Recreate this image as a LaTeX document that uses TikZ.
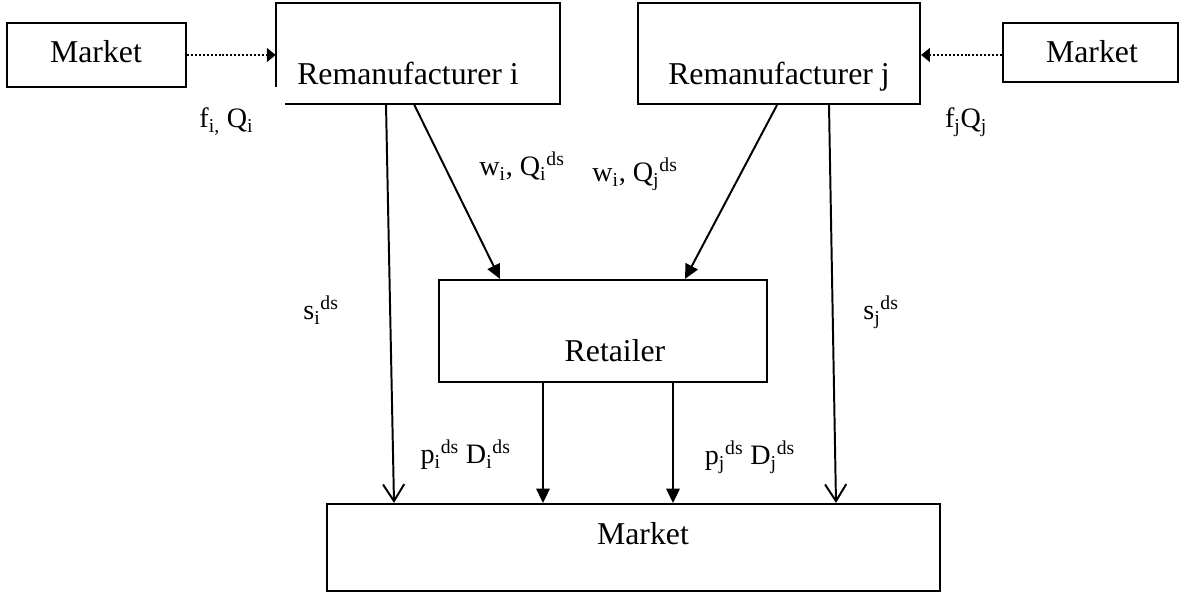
\documentclass[tikz,border=0pt]{standalone}
\usepackage{fontspec}
\setmainfont{Liberation Serif}
\usepackage{tikz}
\usetikzlibrary{arrows.meta}
\tikzset{
  box/.style={draw=black,line width=1.5pt,inner sep=0pt},
  boxtext/.style={font=\fontsize{22.6}{27}\selectfont,anchor=base,inner sep=0pt},
  flowlabel/.style={font=\fontsize{20}{24}\selectfont,anchor=base,inner sep=0pt},
  flow/.style={line width=1.4pt,-{Triangle[length=0.36cm,width=0.34cm]}},
  payflow/.style={line width=1.4pt,-{Straight Barb[length=0.42cm,width=0.53cm,line width=1.4pt]}},
  dotflow/.style={line width=1.6pt,dash pattern=on 1.4pt off 1.4pt,-{Triangle[length=0.22cm,width=0.34cm]}}
}

\begin{document}
\begin{tikzpicture}[x=1cm,y=1cm]
  \useasboundingbox (0,0) rectangle (29.5,14.875);
  \node[box,minimum width=4.475cm,minimum height=1.6cm] (mktl) at (2.4125,13.5) {};
  \node[inner sep=0pt,minimum width=7.1cm,minimum height=2.525cm] (remi) at (10.45,13.5375) {};
  \draw[line width=1.5pt] ([yshift=0.425cm]remi.south west)--(remi.north west)--(remi.north east)
    --(remi.south east)--([xshift=0.225cm]remi.south west);
  \node[box,minimum width=7.05cm,minimum height=2.525cm] (remj) at (19.475,13.5375) {};
  \node[box,minimum width=4.375cm,minimum height=1.475cm] (mktr) at (27.2625,13.5625) {};
  \node[box,minimum width=8.2cm,minimum height=2.55cm] (retailer) at (15.075,6.6) {};
  \node[box,minimum width=15.325cm,minimum height=2.175cm] (mkt) at (15.8375,1.1875) {};
  \node[boxtext] (mktltext) at (2.4,13.3) {Market};
  \node[boxtext] (remitext) at (10.2,12.75) {Remanufacturer i};
  \node[boxtext] (remjtext) at (19.475,12.75) {Remanufacturer j};
  \node[boxtext] (mktrtext) at (27.3,13.3) {Market};
  \node[boxtext] (retailertext) at (15.375,5.825) {Retailer};
  \node[boxtext] (mkttext) at (16.075,1.25) {Market};
  \draw[dotflow] (mktl.east)--(mktl.east -| remi.west);
  \draw[dotflow] (mktr.west |- mktl.east)--(remj.east |- mktl.east);
  \draw[flow] (10.35,0 |- remi.south)--(12.5,0 |- retailer.north);
  \draw[flow] (19.425,0 |- remj.south)--(17.125,0 |- retailer.north);
  \draw[payflow] (9.65,0 |- remi.south)--(9.85,0 |- mkt.north);
  \draw[payflow] (20.725,0 |- remj.south)--(20.9,0 |- mkt.north);
  \foreach \x in {13.575,16.825}{\draw[flow] (\x,0 |- retailer.south)--(\x,0 |- mkt.north);}
  \node[flowlabel] (fqi) at (5.66,11.675) {f\textsubscript{i,} Q\textsubscript{i}};
  \node[flowlabel] (fqj) at (24.15,11.675) {f\textsubscript{j}Q\textsubscript{j}};
  \node[flowlabel] (wqi) at (13.05,10.475) {w\textsubscript{i}, Q\textsubscript{i}\textsuperscript{ds}};
  \node[flowlabel] (wqj) at (15.875,10.325) {w\textsubscript{i}, Q\textsubscript{j}\textsuperscript{ds}};
  \node[flowlabel] (si) at (8.025,6.875) {s\textsubscript{i}\textsuperscript{ds}};
  \node[flowlabel] (sj) at (22.025,6.875) {s\textsubscript{j}\textsuperscript{ds}};
  \node[flowlabel] (pdi) at (11.64,3.275) {p\textsubscript{i}\textsuperscript{ds} D\textsubscript{i}\textsuperscript{ds}};
  \node[flowlabel] (pdj) at (18.75,3.25) {p\textsubscript{j}\textsuperscript{ds} D\textsubscript{j}\textsuperscript{ds}};
\end{tikzpicture}
\end{document}
